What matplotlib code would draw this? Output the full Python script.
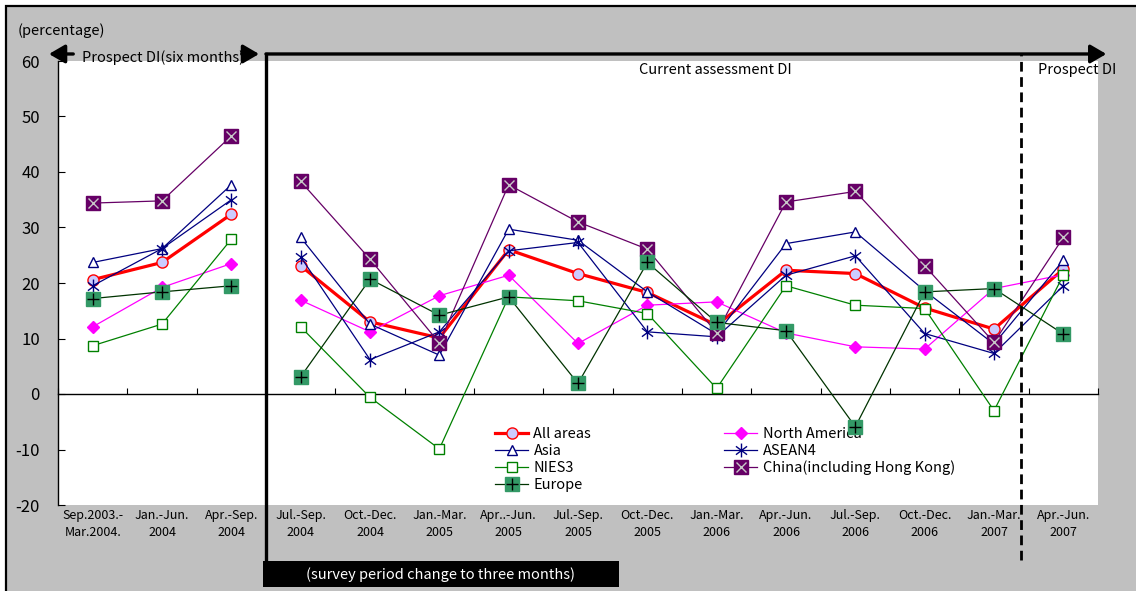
import numpy as np
import matplotlib.pyplot as plt
from matplotlib.path import Path
from matplotlib.patches import Rectangle
from matplotlib.lines import Line2D
from matplotlib.legend_handler import HandlerTuple

plt.rcParams['font.family'] = ['Noto Sans CJK JP', 'DejaVu Sans']
plt.rcParams['axes.unicode_minus'] = False

# Survey periods (first three are six-month prospects, then quarterly)
periods = ['Sep.2003.-\nMar.2004.', 'Jan.-Jun.\n2004', 'Apr.-Sep.\n2004',
           'Jul.-Sep.\n2004', 'Oct.-Dec.\n2004', 'Jan.-Mar.\n2005',
           'Apr..-Jun.\n2005', 'Jul.-Sep.\n2005', 'Oct.-Dec.\n2005',
           'Jan.-Mar.\n2006', 'Apr.-Jun.\n2006', 'Jul.-Sep.\n2006',
           'Oct.-Dec.\n2006', 'Jan.-Mar.\n2007', 'Apr.-Jun.\n2007']

all_areas = [20.6, 23.7, 32.4, 23.1, 13.0, 10.1, 26.0, 21.7, 18.3, 12.4, 22.3, 21.7, 15.5, 11.7, 22.5]
north_america = [12.1, 19.2, 23.5, 16.9, 11.2, 17.7, 21.4, 9.1, 16.0, 16.6, 11.0, 8.5, 8.1, 19.0, 21.5]
asia = [23.7, 26.2, 37.7, 28.2, 12.6, 7.0, 29.7, 27.7, 18.4, 10.8, 27.1, 29.2, 18.6, 9.0, 24.1]
asean4 = [19.5, 26.2, 35.0, 24.7, 6.2, 11.2, 25.8, 27.3, 11.2, 10.3, 21.4, 24.9, 10.9, 7.3, 19.5]
nies3 = [8.7, 12.6, 27.9, 12.1, -0.6, -9.9, 17.5, 16.8, 14.5, 1.0, 19.5, 16.0, 15.4, -3.0, 21.4]
china = [34.4, 34.8, 46.5, 38.3, 24.3, 9.2, 37.7, 31.0, 26.1, 11.0, 34.6, 36.5, 23.1, 9.3, 28.2]
europe = [17.2, 18.4, 19.5, 3.1, 20.7, 14.2, 17.5, 1.9, 23.7, 12.9, 11.4, -5.9, 18.4, 19.0, 10.8]

n_prospect = 3  # lines break where the survey period changes

# asterisk marker (vertical bar + X)
star = Path([(0, -1), (0, 1), (-0.8, -0.6), (0.8, 0.6), (-0.8, 0.6), (0.8, -0.6)],
            [Path.MOVETO, Path.LINETO, Path.MOVETO, Path.LINETO, Path.MOVETO, Path.LINETO])

W, H = 1136, 591
fig = plt.figure(figsize=(W / 100, H / 100), dpi=100, facecolor='white')
fig.add_artist(Rectangle((6 / W, -0.05), 1.1, (H - 6) / H + 0.05, transform=fig.transFigure,
                         facecolor='#c0c0c0', edgecolor='black', lw=1.6, zorder=-1))

ax = fig.add_axes([58 / W, (H - 505) / H, 1040 / W, 444 / H])
ax.set_facecolor('white')

x = np.arange(len(periods))

styles = [
    ('All areas', all_areas, dict(color='red', lw=2.3, marker='o', ms=8, mfc='#ccccff', mec='red', mew=1)),
    ('North America', north_america, dict(color='#ff00ff', lw=0.9, marker='D', ms=6.5, mfc='#ff00ff', mec='#ff00ff')),
    ('Asia', asia, dict(color='#000080', lw=0.9, marker='^', ms=7, mfc='white', mec='#000080', mew=1)),
    ('ASEAN4', asean4, dict(color='#000080', lw=0.9, marker=star, ms=10, mfc='none', mec='#000080', mew=1)),
    ('NIES3', nies3, dict(color='#008000', lw=0.9, marker='s', ms=7, mfc='white', mec='#008000', mew=1)),
    ('China(including Hong Kong)', china, dict(color='#660066', lw=0.9, marker='s', ms=10, mfc='#660066', mec='#660066')),
    ('Europe', europe, dict(color='#003300', lw=0.9, marker='s', ms=10, mfc='#339966', mec='#339966')),
]
overlay = {
    'China(including Hong Kong)': dict(marker='x', ms=7, color='#c8c8c8', mew=1, ls='none'),
    'Europe': dict(marker='+', ms=9, color='black', mew=1, ls='none'),
}

handles = {}
for z, (name, vals, st) in enumerate(styles):
    vals = np.array(vals)
    for seg in (slice(0, n_prospect), slice(n_prospect, None)):
        ax.plot(x[seg], vals[seg], zorder=3 + z, clip_on=False, **st)
        if name in overlay:
            ax.plot(x[seg], vals[seg], zorder=3 + z, clip_on=False, **overlay[name])
    h = Line2D([], [], **st)
    if name in overlay:
        h = (h, Line2D([], [], **overlay[name]))
    handles[name] = h

ax.set_xlim(-0.5, len(periods) - 0.5)
ax.set_ylim(-20, 60)
ax.set_yticks(np.arange(-20, 61, 10))
ax.tick_params(axis='y', direction='in', length=5, pad=13, labelsize=12)

for s in ('top', 'right'):
    ax.spines[s].set_visible(False)
ax.spines['left'].set_linewidth(1)
ax.spines['bottom'].set_position(('data', 0))
ax.spines['bottom'].set_linewidth(1)
ax.set_xticks(np.arange(-0.5, len(periods), 1))
ax.tick_params(axis='x', direction='in', length=4, labelbottom=False)

sec = ax.secondary_xaxis('bottom')
sec.set_xticks(x, periods, fontsize=9, linespacing=1.35)
sec.spines['bottom'].set_visible(False)
sec.tick_params(length=0, pad=3)

order = ['All areas', 'Asia', 'NIES3', 'Europe', 'North America', 'ASEAN4', 'China(including Hong Kong)']
leg = ax.legend([handles[k] for k in order], order, ncol=2, loc='upper left',
                bbox_to_anchor=(0.42, 0.176), frameon=False, fontsize=10.5,
                handlelength=2.3, handletextpad=0.35, columnspacing=9.1,
                labelspacing=0.2, borderpad=0, borderaxespad=0,
                handler_map={tuple: HandlerTuple(ndivide=1)})
leg.set_zorder(1)

# period markers drawn above/below the plot area
tr = ax.get_xaxis_transform()
y_top = 1.0158
ax.plot([2.5, 2.5], [-0.128, y_top], color='black', lw=2.4, transform=tr,
        clip_on=False, solid_capstyle='projecting', zorder=20)
arrow = dict(arrowstyle='-|>,head_length=0.6,head_width=0.35', color='black', lw=2.4,
             mutation_scale=16, shrinkA=0, shrinkB=0)
ax.annotate('', xy=(14.62, y_top), xytext=(2.5, y_top), xycoords=tr, textcoords=tr,
            arrowprops=arrow, annotation_clip=False, zorder=20)
ax.annotate('', xy=(-0.63, y_top), xytext=(-0.28, y_top), xycoords=tr, textcoords=tr,
            arrowprops=arrow, annotation_clip=False, zorder=20)
ax.annotate('', xy=(2.40, y_top), xytext=(2.15, y_top), xycoords=tr, textcoords=tr,
            arrowprops=arrow, annotation_clip=False, zorder=20)
ax.plot([13.39, 13.39], [-0.124, y_top], color='black', lw=2, ls=(0, (3.5, 2)),
        transform=tr, clip_on=False, zorder=20)

ax.add_patch(Rectangle((2.457, -0.185), 7.59 - 2.457, 0.059, transform=tr,
                       facecolor='black', edgecolor='none', clip_on=False, zorder=20))
ax.text((2.457 + 7.59) / 2, -0.156, '(survey period change to three months)', transform=tr,
        color='white', fontsize=10.5, ha='center', va='center', zorder=21)

ax.text(-0.154, y_top - 0.008, 'Prospect DI(six months)', transform=tr, fontsize=10.5,
        ha='left', va='center', zorder=21)
ax.text(10.09, 0.98, 'Current assessment DI', transform=tr, fontsize=10.5,
        ha='right', va='center', zorder=21)
ax.text(13.63, 0.98, 'Prospect DI', transform=tr, fontsize=10.5,
        ha='left', va='center', zorder=21)
fig.text(18 / W, 1 - 31 / H, '(percentage)', fontsize=10.5, ha='left', va='center')

fig.savefig('out.png', dpi=100, facecolor=fig.get_facecolor())
